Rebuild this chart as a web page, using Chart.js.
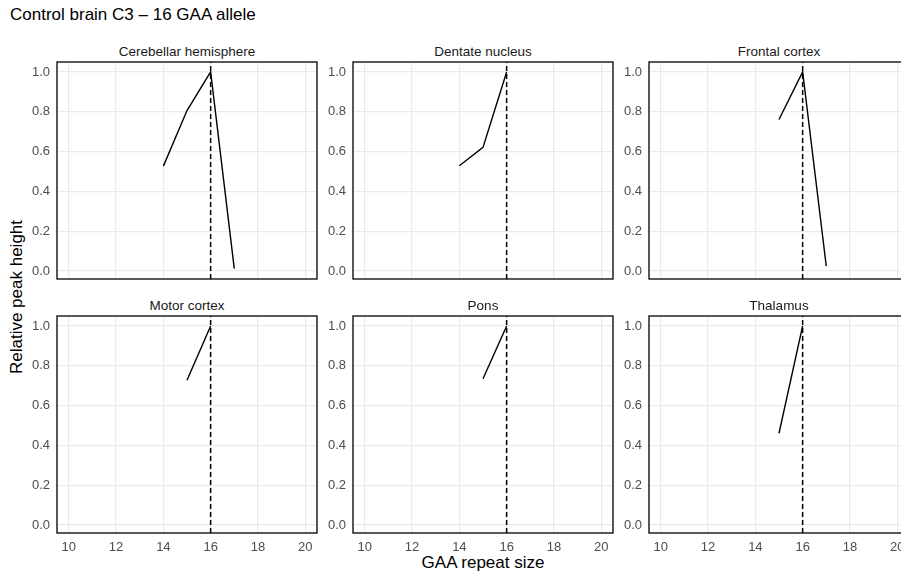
<!DOCTYPE html>
<html>
<head>
<meta charset="utf-8">
<script src="https://cdn.jsdelivr.net/npm/chart.js@4/dist/chart.umd.min.js"></script>
<style>
  html, body { margin:0; padding:0; background:#fff; }
  body { width:901px; height:576px; position:relative; overflow:hidden; font-family:"Liberation Sans", Arial, sans-serif; }
  .txt { position:absolute; white-space:nowrap; line-height:1; }
  #title { left:10px; top:6px; font-size:17px; color:#000; }
  .strip { font-size:13.5px; color:#1a1a1a; transform:translateX(-50%); }
  #xtitle { left:483px; top:554px; font-size:17px; color:#000; transform:translateX(-50%); }
  #ytitle { left:16px; top:297px; font-size:17px; color:#000; transform:translate(-50%,-50%) rotate(-90deg); }
  canvas { position:absolute; }
</style>
</head>
<body>
<div id="title" class="txt">Control brain C3 – 16 GAA allele</div>
<div id="xtitle" class="txt">GAA repeat size</div>
<div id="ytitle" class="txt">Relative peak height</div>

<script>
// data
const panels = ["Cerebellar hemisphere", "Dentate nucleus", "Frontal cortex", "Motor cortex", "Pons", "Thalamus"];
const repeatSizes = [[14, 15, 16, 17], [14, 15, 16], [15, 16, 17], [15, 16], [15, 16], [15, 16]];
const peakHeights = [[0.527, 0.806, 1.0, 0.012], [0.529, 0.621, 1.0], [0.761, 1.0, 0.025], [0.727, 1.0], [0.735, 1.0], [0.461, 1.0]];
const alleleSize = 16;
const xTicks = [10, 12, 14, 16, 18, 20];
const yTicks = [0, 0.2, 0.4, 0.6, 0.8, 1.0];

const X_MIN = 9.5, X_MAX = 20.5;
const Y_MIN = -0.04, Y_MAX = 1.05;

// layout of the facet grid
const PLOT_W = 260, PLOT_H = 217;
const colLeft = [57, 353, 649];
const rowTop = [62, 316];
const AXIS_W = 40, PAD = 2, XAXIS_H = 26;

const FONT = "'Liberation Sans', Arial, sans-serif";

const panelBorder = {
  id: "panelBorder",
  afterDraw(chart){
    const a = chart.chartArea, ctx = chart.ctx;
    ctx.save();
    ctx.strokeStyle = "#000";
    ctx.lineWidth = 1.3;
    ctx.strokeRect(a.left, a.top, a.right - a.left, a.bottom - a.top);
    ctx.restore();
  }
};

panels.forEach((name, i) => {
  const row = Math.floor(i / 3), col = i % 3;
  const bottomRow = row === 1;
  const left = colLeft[col], top = rowTop[row];

  const strip = document.createElement("div");
  strip.className = "txt strip";
  strip.textContent = name;
  strip.style.left = (left + PLOT_W / 2) + "px";
  strip.style.top = (top - 17) + "px";
  document.body.appendChild(strip);

  const cv = document.createElement("canvas");
  const w = AXIS_W + PLOT_W + PAD;
  const h = PAD + PLOT_H + (bottomRow ? XAXIS_H : PAD);
  cv.width = w; cv.height = h;
  cv.style.width = w + "px"; cv.style.height = h + "px";
  cv.style.left = (left - AXIS_W) + "px";
  cv.style.top = (top - PAD) + "px";
  document.body.appendChild(cv);

  const pts = repeatSizes[i].map((x, k) => ({ x, y: peakHeights[i][k] }));

  new Chart(cv, {
    type: "line",
    data: {
      datasets: [
        { data: pts, borderColor: "#000", borderWidth: 1.4, pointRadius: 0, tension: 0 },
        { data: [{ x: alleleSize, y: Y_MIN }, { x: alleleSize, y: Y_MAX }],
          borderColor: "#000", borderWidth: 1.5, borderDash: [5, 3], pointRadius: 0 }
      ]
    },
    options: {
      responsive: false,
      animation: false,
      devicePixelRatio: 1,
      layout: { padding: { left: 0, right: PAD, top: PAD, bottom: 0 } },
      plugins: { legend: { display: false }, tooltip: { enabled: false } },
      scales: {
        x: {
          type: "linear", min: X_MIN, max: X_MAX,
          afterBuildTicks: s => { s.ticks = xTicks.map(v => ({ value: v })); },
          afterFit: s => { s.height = bottomRow ? XAXIS_H : PAD; s.paddingLeft = 0; s.paddingRight = 0; },
          grid: { color: "#ebebeb", lineWidth: 1.2, drawTicks: false },
          border: { display: false },
          ticks: { display: bottomRow, padding: 7, color: "#4d4d4d", font: { family: FONT, size: 13 },
                   maxRotation: 0, callback: v => String(v) }
        },
        y: {
          type: "linear", min: Y_MIN, max: Y_MAX,
          afterBuildTicks: s => { s.ticks = yTicks.map(v => ({ value: v })); },
          afterFit: s => { s.width = AXIS_W; s.paddingTop = 0; s.paddingBottom = 0; },
          grid: { color: "#ebebeb", lineWidth: 1.2, drawTicks: false },
          border: { display: false },
          ticks: { padding: 7, color: "#4d4d4d", font: { family: FONT, size: 13 },
                   callback: v => Number(v).toFixed(1) }
        }
      }
    },
    plugins: [panelBorder]
  });
});
</script>
</body>
</html>
